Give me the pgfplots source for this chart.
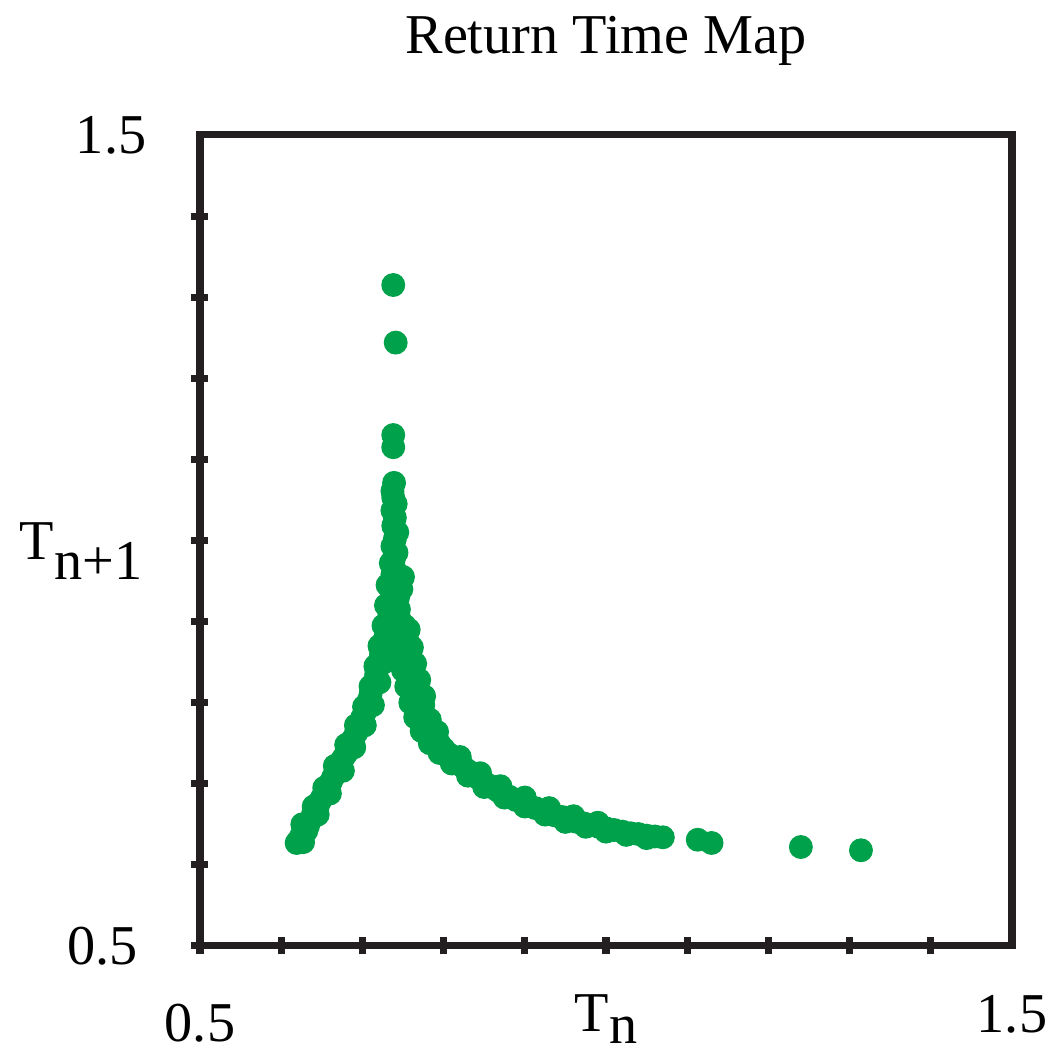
\documentclass[border=0pt]{standalone}
\usepackage{fontspec}
\setmainfont{Liberation Serif}
\usepackage{pgfplots}
\pgfplotsset{compat=1.18}
\usetikzlibrary{calc}

\definecolor{dotgreen}{RGB}{0,161,75}
\definecolor{frame}{RGB}{35,31,32}

% return time map T_n -> T_{n+1}
\pgfplotstableread{
x y
0.619 0.627
0.622 0.631
0.627 0.628
0.625 0.636
0.627 0.640
0.631 0.642
0.626 0.650
0.633 0.648
0.636 0.655
0.639 0.662
0.645 0.662
0.640 0.672
0.642 0.666
0.645 0.672
0.648 0.679
0.651 0.684
0.653 0.695
0.655 0.690
0.660 0.688
0.658 0.697
0.661 0.702
0.664 0.708
0.667 0.715
0.666 0.722
0.670 0.719
0.676 0.716
0.673 0.726
0.676 0.731
0.680 0.737
0.680 0.748
0.683 0.744
0.690 0.745
0.686 0.751
0.689 0.756
0.692 0.762
0.692 0.772
0.695 0.769
0.697 0.775
0.703 0.772
0.700 0.782
0.703 0.788
0.702 0.795
0.705 0.795
0.713 0.797
0.708 0.803
0.710 0.810
0.712 0.818
0.710 0.820
0.715 0.826
0.721 0.825
0.717 0.835
0.719 0.843
0.716 0.845
0.721 0.851
0.727 0.850
0.723 0.860
0.725 0.868
0.721 0.870
0.732 0.873
0.727 0.877
0.729 0.886
0.726 0.895
0.731 0.896
0.738 0.900
0.733 0.906
0.734 0.916
0.729 0.920
0.742 0.925
0.735 0.926
0.744 0.930
0.736 0.937
0.748 0.940
0.731 0.945
0.737 0.948
0.750 0.955
0.737 0.958
0.741 0.962
0.735 0.972
0.739 0.978
0.742 0.985
0.737 0.993
0.740 1.002
0.743 1.010
0.738 1.018
0.740 1.028
0.737 1.037
0.741 1.045
0.738 1.053
0.737 1.061
0.739 1.071
0.738 1.115
0.738 1.130
0.741 1.244
0.738 1.315
0.745 0.915
0.746 0.902
0.752 0.895
0.757 0.890
0.748 0.892
0.749 0.882
0.744 0.880
0.756 0.875
0.761 0.868
0.751 0.872
0.753 0.862
0.747 0.860
0.755 0.852
0.760 0.855
0.765 0.848
0.757 0.842
0.750 0.840
0.759 0.832
0.764 0.835
0.770 0.828
0.761 0.822
0.754 0.820
0.764 0.812
0.769 0.815
0.776 0.808
0.767 0.803
0.759 0.800
0.770 0.794
0.775 0.797
0.773 0.786
0.765 0.782
0.777 0.778
0.783 0.779
0.781 0.770
0.773 0.765
0.785 0.762
0.792 0.764
0.790 0.755
0.783 0.750
0.795 0.749
0.800 0.743
0.795 0.738
0.806 0.737
0.812 0.731
0.810 0.725
0.820 0.733
0.818 0.726
0.824 0.721
0.830 0.716
0.830 0.710
0.837 0.711
0.845 0.713
0.844 0.706
0.851 0.701
0.850 0.696
0.858 0.697
0.866 0.692
0.870 0.697
0.873 0.688
0.875 0.683
0.881 0.684
0.889 0.680
0.900 0.683
0.897 0.677
0.900 0.672
0.905 0.673
0.913 0.670
0.921 0.667
0.925 0.662
0.930 0.670
0.929 0.664
0.937 0.661
0.946 0.659
0.950 0.653
0.955 0.656
0.960 0.660
0.964 0.653
0.973 0.651
0.975 0.647
0.982 0.649
0.990 0.652
0.991 0.647
1.000 0.645
1.000 0.641
1.010 0.643
1.020 0.641
1.025 0.637
1.030 0.639
1.040 0.638
1.050 0.636
1.050 0.633
1.060 0.635
1.070 0.634
1.113 0.631
1.130 0.627
1.240 0.622
1.314 0.618
}\rtmap

\begin{document}
\begin{tikzpicture}
\begin{axis}[
  name=ax,
  width=81.2mm, height=81.1mm,
  scale only axis,
  xmin=0.5, xmax=1.5, ymin=0.5, ymax=1.5,
  font=\fontsize{16}{18}\selectfont,
  axis line style={line width=2pt, color=frame},
  tick align=center,
  major tick length=1.7mm,
  tick style={line width=2pt, color=frame},
  xtick pos=left, ytick pos=left,
  xtick={0.5,0.6,0.7,0.8,0.9,1.0,1.1,1.2,1.3,1.4},
  xticklabels={0.5,,,,,,,,,},
  ytick={0.5,0.6,0.7,0.8,0.9,1.0,1.1,1.2,1.3,1.4},
  yticklabels={0.5,,,,,,,,,},
  extra x ticks={1.5}, extra x tick labels={1.5},
  extra y ticks={1.5}, extra y tick labels={1.5},
  extra tick style={major tick length=0pt},
  xticklabel style={anchor=base, inner sep=0pt, yshift=-8.7mm},
  yticklabel style={anchor=east, inner sep=0pt, xshift=-5.3mm},
  title={Return Time Map},
  title style={at={(axis description cs:0.5,1)}, anchor=base, inner sep=0pt, yshift=6.0mm},
  xlabel={T\raisebox{-1.2mm}{n}},
  xlabel style={at={(axis description cs:0.5,0)}, anchor=base, inner sep=0pt, yshift=-8.6mm},
  ylabel={T\raisebox{-2mm}{n+1}},
  ylabel style={rotate=-90, at={(axis description cs:0,0.476)}, anchor=base east, inner sep=0pt, xshift=-5.7mm},
]
\addplot[only marks, mark=*, mark size=3.2pt, color=dotgreen, fill=dotgreen] table {\rtmap};
\end{axis}
\path ($(ax.south west)+(-20mm,-10.6mm)$) rectangle ($(ax.north east)+(5.2mm,13.5mm)$);
\end{tikzpicture}
\end{document}
